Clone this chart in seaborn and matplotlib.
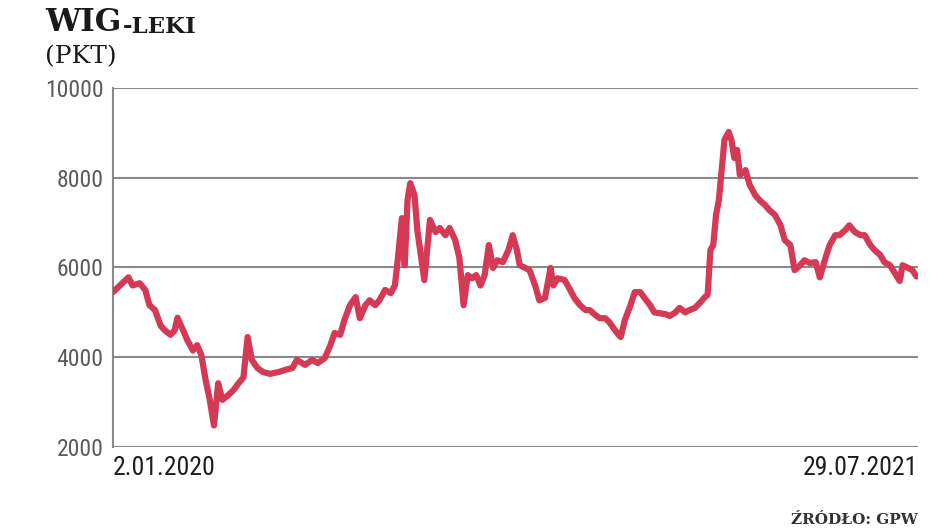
import numpy as np
import pandas as pd
import matplotlib
matplotlib.use("Agg")
import matplotlib.pyplot as plt
import seaborn as sns
from matplotlib import font_manager

# ---- data ----
start_date = "2020-01-02"
day_offsets = [0, 5, 11, 14, 19, 23, 26, 30, 34, 37, 41, 44, 46, 50, 53, 57, 60, 63, 66, 69,
               72, 75, 78, 82, 86, 89, 93, 96, 99, 103, 107, 112, 118, 123, 128, 131, 137, 142,
               146, 151, 155, 158, 162, 165, 169, 173, 176, 180, 183, 187, 190, 194, 198, 201,
               203, 206, 208, 210, 212, 215, 217, 220, 222, 226, 230, 233, 237, 240, 244, 247,
               250, 253, 256, 259, 262, 265, 268, 271, 274, 278, 282, 285, 288, 290, 294, 297,
               301, 304, 308, 312, 314, 317, 322, 326, 329, 333, 337, 340, 344, 347, 351, 354,
               358, 362, 365, 369, 372, 376, 379, 383, 386, 390, 394, 397, 401, 404, 408, 411,
               415, 419, 422, 424, 426, 428, 430, 432, 434, 436, 439, 441, 443, 445, 447, 451,
               454, 458, 461, 465, 468, 472, 476, 479, 483, 486, 490, 493, 497, 501, 504, 508,
               511, 515, 518, 522, 525, 529, 533, 536, 540, 543, 547, 550, 554, 557, 561, 563,
               567, 570, 573]
wig_leki = [5450, 5600, 5780, 5600, 5650, 5500, 5160, 5050, 4700, 4600, 4500, 4600, 4880, 4600,
            4380, 4150, 4270, 4050, 3500, 3050, 2480, 3420, 3050, 3150, 3270, 3400, 3550, 4450,
            3940, 3760, 3670, 3630, 3670, 3720, 3760, 3940, 3830, 3940, 3870, 3980, 4270, 4540,
            4500, 4830, 5160, 5340, 4870, 5160, 5270, 5160, 5270, 5500, 5430, 5600, 6160, 7100,
            6050, 7500, 7880, 7610, 6830, 6160, 5720, 7060, 6790, 6880, 6720, 6880, 6610, 6210,
            5160, 5830, 5760, 5830, 5600, 5830, 6500, 5990, 6160, 6120, 6390, 6720, 6390, 6050,
            5990, 5940, 5600, 5270, 5320, 5990, 5600, 5760, 5720, 5500, 5320, 5160, 5050, 5050,
            4940, 4870, 4870, 4780, 4600, 4450, 4830, 5160, 5450, 5450, 5320, 5160, 5000, 4980,
            4960, 4920, 5000, 5100, 5000, 5050, 5100, 5230, 5340, 5390, 6390, 6500, 7170, 7500,
            8170, 8840, 9020, 8840, 8440, 8620, 8060, 8170, 7840, 7610, 7500, 7390, 7280, 7170,
            6940, 6610, 6500, 5940, 6050, 6160, 6100, 6120, 5780, 6210, 6500, 6720, 6720, 6830,
            6940, 6790, 6720, 6720, 6500, 6390, 6280, 6120, 6050, 5900, 5700, 6050, 5990, 5940,
            5800]
y_ticks = [2000, 4000, 6000, 8000, 10000]
x_labels = ["2.01.2020", "29.07.2021"]
title_main = "WIG"
title_small = "-LEKI"
unit_label = "(PKT)"
source_label = "ŹRÓDŁO: GPW"

# ---- fonts ----
available = {f.name for f in font_manager.fontManager.ttflist}
def pick(*names):
    for n in names:
        if n in available:
            return n
    return "DejaVu Sans"
narrow = pick("Liberation Sans Narrow", "Roboto Condensed", "Open Sans Condensed", "Roboto")
serif = pick("DejaVu Serif", "Liberation Serif")

sns.set_style("white")
plt.rcParams["font.family"] = [narrow, "DejaVu Sans"]

dates = pd.to_datetime(start_date) + pd.to_timedelta(day_offsets, unit="D")
df = pd.DataFrame({"date": dates, "value": wig_leki})

fig = plt.figure(figsize=(9.48, 5.29), dpi=100)
ax = fig.add_axes([113/948, (529-447)/529, (918-113)/948, (447-88)/529])

line_col = "#d43a55"
grid_col = "#8a8a8a"

for t in y_ticks:
    ax.axhline(t, color=grid_col, lw=1.5, zorder=1)

sns.lineplot(data=df, x="date", y="value", ax=ax, color=line_col, lw=4.5,
             solid_joinstyle="round", solid_capstyle="round", zorder=3)

ax.set_ylim(2000, 10000)
ax.set_xlim(dates[0], dates[-1] + pd.Timedelta(days=1))
for s in ["top", "right", "bottom"]:
    ax.spines[s].set_visible(False)
ax.spines["left"].set_color(grid_col)
ax.spines["left"].set_linewidth(1.5)
ax.set_yticks(y_ticks)
ax.set_yticklabels([str(v) for v in y_ticks], fontsize=17, color="#5a5a5a")
ax.tick_params(axis="y", length=0, pad=7)
ax.set_xticks([])
ax.set_xlabel("")
ax.set_ylabel("")
ax.set_facecolor("white")

ax.text(0.0, -0.025, x_labels[0], transform=ax.transAxes, ha="left", va="top",
        fontsize=18.5, color="#1e1e1e")
ax.text(1.0, -0.025, x_labels[1], transform=ax.transAxes, ha="right", va="top",
        fontsize=18.5, color="#1e1e1e")

# title
t1 = fig.text(45/948, 1 - 31/529, title_main, ha="left", va="baseline",
              fontsize=22.5, fontweight="bold", family=serif, color="#1a1a1a")
fig.canvas.draw()
t2 = ax.annotate(title_small, xy=(1, 0), xycoords=t1, xytext=(1, 0), textcoords="offset points",
                 ha="left", va="bottom", fontsize=16.5, fontweight="bold", family=serif,
                 color="#1a1a1a", annotation_clip=False)
fig.text(45/948, 1 - 63/529, unit_label, ha="left", va="baseline",
         fontsize=18, family=serif, color="#1a1a1a")

fig.text(918/948, 1 - 524/529, source_label, ha="right", va="baseline",
         fontsize=11, fontweight="bold", family=serif, color="#333333")

fig.savefig("out.png", dpi=100, facecolor="white")
